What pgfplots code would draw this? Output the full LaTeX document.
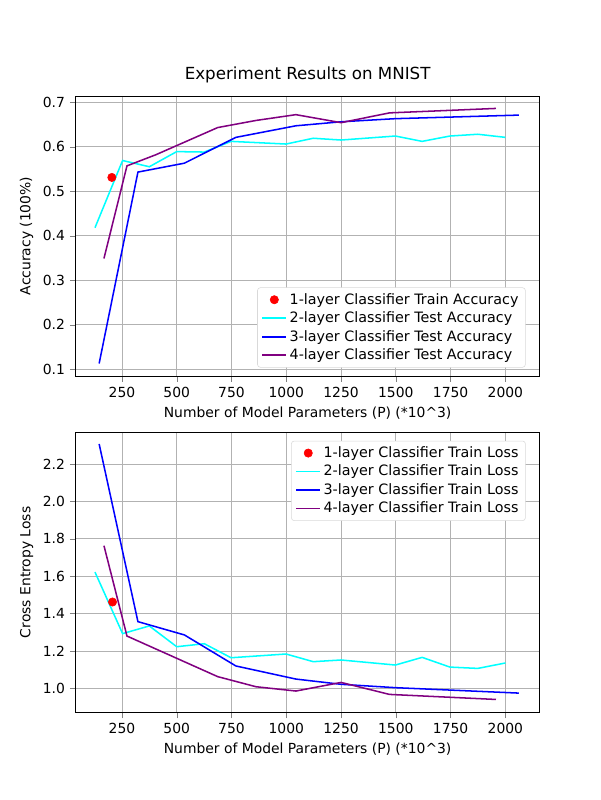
\documentclass[border=0pt]{standalone}
\usepackage{pgfplots}
\pgfplotsset{compat=1.18}
\usepackage{fontspec}
\setmainfont{DejaVu Sans}
\definecolor{mcyan}{RGB}{0,255,255}
\definecolor{mblue}{RGB}{0,0,255}
\definecolor{mpurple}{RGB}{128,0,128}
\definecolor{mred}{RGB}{255,0,0}
\begin{document}
\fontsize{10}{12}\selectfont
\begin{tikzpicture}
\path (0,0) rectangle (432pt,576pt);
\pgfplotsset{myax/.style={
  scale only axis, width=334pt, height=201.6pt,
  xmin=39, xmax=2156, xtick={250,500,...,2000},
  grid=major, grid style={gray!60, line width=0.6pt},
  tick align=outside, tick pos=left,
  /pgf/number format/assume math mode=true,
  /pgf/number format/1000 sep={},
  ticklabel style={font=\fontsize{10}{12}\selectfont},
  label style={font=\fontsize{10}{12}\selectfont},
  legend cell align=left,
  legend style={font=\fontsize{10.3}{12.5}\selectfont, draw=gray!30, rounded corners=2pt, fill=white},
  xlabel={Number of Model Parameters (P) (*10\^{}3)},
}}
\begin{axis}[myax, at={(54.5pt,305.3pt)}, anchor=south west,
  ymin=0.085, ymax=0.714, ytick={0.1,0.2,...,0.7},
  yticklabel style={/pgf/number format/fixed, /pgf/number format/precision=1, /pgf/number format/fixed zerofill},
  ylabel={Accuracy (100\%)}, title={Experiment Results on MNIST},
  title style={font=\fontsize{12}{14}\selectfont},
  legend pos=south east]
\addplot[only marks, mark=*, mark size=3pt, draw=mred, fill=mred] coordinates {(204,0.531)};
\addplot[draw=mcyan, line width=1.1pt, mark=none] coordinates {(127,0.418)(253,0.569)(375,0.555)(500,0.589)(626,0.588)(748,0.612)(999,0.606)(1123,0.619)(1250,0.615)(1498,0.624)(1620,0.612)(1747,0.624)(1874,0.628)(2000,0.621)};
\addplot[draw=mblue, line width=1.1pt, mark=none] coordinates {(146,0.113)(323,0.543)(535,0.563)(770,0.621)(1044,0.647)(1250,0.656)(1498,0.663)(2061,0.671)};
\addplot[draw=mpurple, line width=1.1pt, mark=none] coordinates {(168,0.349)(273,0.557)(405,0.582)(687,0.643)(862,0.659)(1044,0.672)(1250,0.654)(1471,0.676)(1957,0.686)};
\legend{1-layer Classifier Train Accuracy,2-layer Classifier Test Accuracy,3-layer Classifier Test Accuracy,4-layer Classifier Test Accuracy}
\end{axis}
\begin{axis}[myax, at={(54.5pt,63.1pt)}, anchor=south west,
  ymin=0.872, ymax=2.369, ytick={1.0,1.2,...,2.2},
  yticklabel style={/pgf/number format/fixed, /pgf/number format/precision=1, /pgf/number format/fixed zerofill},
  ylabel={Cross Entropy Loss},
  legend pos=north east]
\addplot[only marks, mark=*, mark size=3pt, draw=mred, fill=mred] coordinates {(207,1.462)};
\addplot[draw=mcyan, line width=1.1pt, mark=none] coordinates {(127,1.622)(253,1.293)(375,1.334)(500,1.223)(626,1.239)(748,1.164)(999,1.184)(1123,1.143)(1250,1.152)(1498,1.125)(1620,1.166)(1747,1.114)(1874,1.107)(2000,1.136)};
\addplot[draw=mblue, line width=1.1pt, mark=none] coordinates {(146,2.307)(323,1.357)(535,1.286)(770,1.120)(1044,1.050)(1250,1.022)(1498,1.004)(2061,0.975)};
\addplot[draw=mpurple, line width=1.1pt, mark=none] coordinates {(168,1.763)(273,1.280)(687,1.063)(862,1.009)(1044,0.986)(1250,1.032)(1471,0.968)(1957,0.941)};
\legend{1-layer Classifier Train Loss,2-layer Classifier Train Loss,3-layer Classifier Train Loss,4-layer Classifier Train Loss}
\end{axis}
\end{tikzpicture}
\end{document}
